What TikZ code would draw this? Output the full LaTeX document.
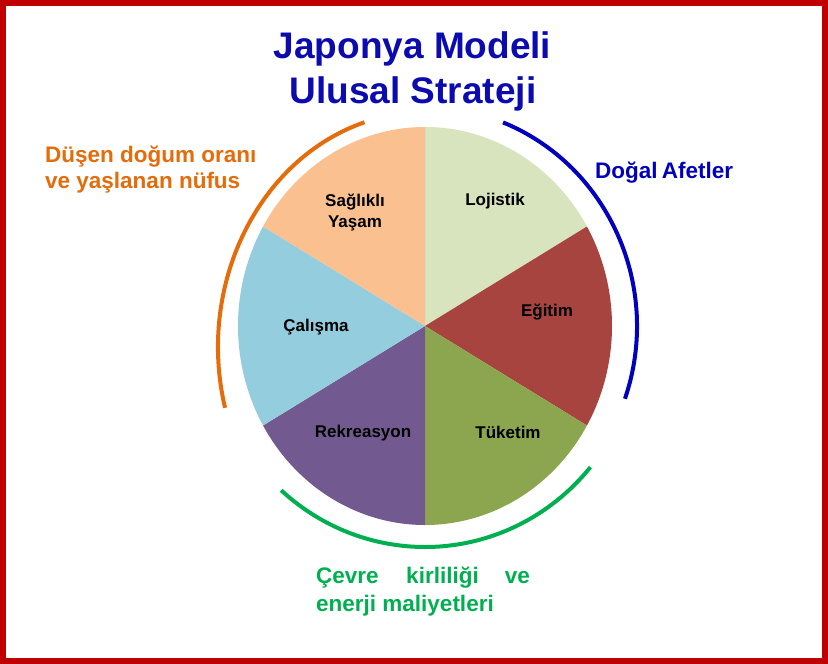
\documentclass[tikz,border=0pt]{standalone}
\usepackage{fontspec}
\setmainfont{Liberation Sans}
\usetikzlibrary{calc}
\definecolor{frame}{HTML}{C00000}
\definecolor{titleblue}{HTML}{0B0BB0}
\definecolor{arcorange}{HTML}{E46C0A}
\definecolor{arcblue}{HTML}{0000BE}
\definecolor{arcgreen}{HTML}{00B050}
\definecolor{cLoj}{HTML}{D7E4BD}
\definecolor{cEgi}{HTML}{A8443F}
\definecolor{cTuk}{HTML}{8CA64F}
\definecolor{cRek}{HTML}{725A91}
\definecolor{cCal}{HTML}{93CDDE}
\definecolor{cSag}{HTML}{FAC090}
\tikzset{
  slicelabel/.style={font=\bfseries\fontsize{17}{21}\selectfont, text=black, align=center, inner sep=0pt},
  sidetext/.style={font=\bfseries\fontsize{22.5}{24}\selectfont, inner sep=0pt},
  titletext/.style={font=\bfseries\fontsize{37}{42}\selectfont, text=titleblue, inner sep=0pt},
  arcline/.style={line width=4pt}
}
\begin{document}
\begin{tikzpicture}[x=1pt,y=1pt]
\useasboundingbox (0,0) rectangle (828,-664);
\fill[white] (0,0) rectangle (828,-664);
\draw[line width=6pt, frame] (3,-3) rectangle (825,-661);

\coordinate (C) at (425,-326);
% pie slices (ellipse rx=187, ry=199)
\fill[cLoj] (C) -- ++(90:187 and 199) arc[start angle=90, end angle=30, x radius=187pt, y radius=199pt] -- cycle;
\fill[cEgi] (C) -- ++(30:187 and 199) arc[start angle=30, end angle=-30, x radius=187pt, y radius=199pt] -- cycle;
\fill[cTuk] (C) -- ++(-30:187 and 199) arc[start angle=-30, end angle=-90, x radius=187pt, y radius=199pt] -- cycle;
\fill[cRek] (C) -- ++(-90:187 and 199) arc[start angle=-90, end angle=-150, x radius=187pt, y radius=199pt] -- cycle;
\fill[cCal] (C) -- ++(210:187 and 199) arc[start angle=210, end angle=150, x radius=187pt, y radius=199pt] -- cycle;
\fill[cSag] (C) -- ++(150:187 and 199) arc[start angle=150, end angle=90, x radius=187pt, y radius=199pt] -- cycle;

% slice labels
\node[slicelabel] (sag) at (355,-213) {Sağlıklı\\Yaşam};
\node[slicelabel] (loj) at (495,-201) {Lojistik};
\node[slicelabel] (egi) at (547,-312) {Eğitim};
\node[slicelabel] (cal) at (316,-327) {Çalışma};
\node[slicelabel] (rek) at (363,-433) {Rekreasyon};
\node[slicelabel] (tuk) at (508,-432) {Tüketim};

% surrounding arcs
\coordinate (oc) at (425,-347);
\draw[arcline, arcorange] ($(oc)+(107:207 and 235)$) arc[start angle=107, end angle=195, x radius=207pt, y radius=235pt];
\draw[arcline, arcblue] ($(C)+(68.4:212 and 219)$) arc[start angle=68.4, end angle=-19.4, x radius=212pt, y radius=219pt];
\draw[arcline, arcgreen] ($(C)+(228:215 and 221)$) arc[start angle=228, end angle=320.3, x radius=215pt, y radius=221pt];

% title
\node[titletext, anchor=base] (t1) at (412.5,-58) {Japonya Modeli};
\node[titletext, anchor=base] (t2) at (413,-103) {Ulusal Strateji};

% side texts
\node[sidetext, text=arcorange, anchor=base west] (o1) at (45,-162) {Düşen doğum oranı};
\node[sidetext, text=arcorange, anchor=base west] (o2) at (45,-188) {ve yaşlanan nüfus};
\node[sidetext, text=arcblue, anchor=base west] (b1) at (595,-178) {Doğal\hspace{-2pt} Afetler};
\node[sidetext, text=arcgreen, anchor=base west] (g1) at (316,-583) {Çevre};
\node[sidetext, text=arcgreen, anchor=base] (g2) at (442.5,-583) {kirliliği};
\node[sidetext, text=arcgreen, anchor=base east] (g3) at (530,-583) {ve};
\node[sidetext, text=arcgreen, anchor=base west] (g4) at (316,-611) {enerji maliyetleri};
\end{tikzpicture}
\end{document}
